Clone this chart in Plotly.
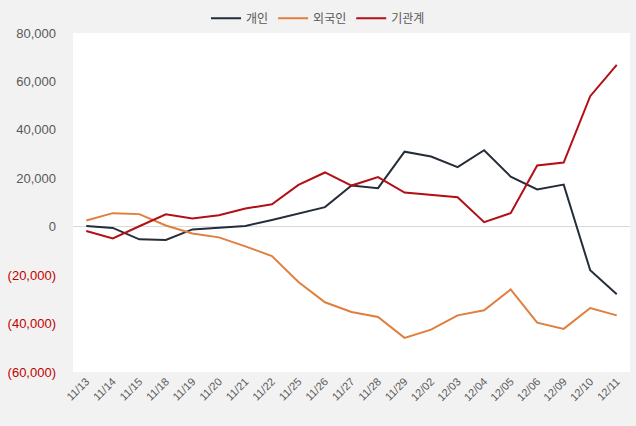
import plotly.graph_objects as go

dates = ["11/13", "11/14", "11/15", "11/18", "11/19", "11/20", "11/21", "11/22", "11/25", "11/26",
         "11/27", "11/28", "11/29", "12/02", "12/03", "12/04", "12/05", "12/06", "12/09", "12/10", "12/11"]
individual = [300, -500, -5200, -5500, -1100, -300, 300, 2800, 5400, 8100,
              17000, 15900, 31000, 29000, 24600, 31600, 20700, 15400, 17400, -18000, -27900]
foreign = [2600, 5600, 5200, 500, -2800, -4400, -8100, -12100, -22800, -31200,
           -35200, -37300, -45900, -42500, -36600, -34500, -25900, -39600, -42200, -33600, -36600]
institution = [-1800, -4800, 200, 5100, 3400, 4700, 7500, 9300, 17300, 22400,
               17000, 20500, 14100, 13200, 12200, 1900, 5600, 25300, 26500, 53900, 66800]

y_ticks = [80000, 60000, 40000, 20000, 0, -20000, -40000, -60000]

def fmt(v):
    if v < 0:
        return "<span style='color:#c00000'>(" + f"{-v:,}" + ")</span>"
    return f"{v:,}"

fig = go.Figure()
fig.add_trace(go.Scatter(x=dates, y=individual, name="개인", mode="lines",
                         line=dict(color="#252d3a", width=2)))
fig.add_trace(go.Scatter(x=dates, y=foreign, name="외국인", mode="lines",
                         line=dict(color="#e07f3d", width=2)))
fig.add_trace(go.Scatter(x=dates, y=institution, name="기관계", mode="lines",
                         line=dict(color="#b30f16", width=2)))

fig.update_layout(
    width=636, height=426,
    paper_bgcolor="#f2f2f2", plot_bgcolor="#ffffff",
    margin=dict(l=73, r=6, t=33, b=54, autoexpand=False),
    font=dict(family="Liberation Sans, Arial, Noto Sans CJK KR, sans-serif", size=12, color="#595959"),
    legend=dict(orientation="h", xref="container", x=0.5, xanchor="center",
                yref="container", y=0.957, yanchor="middle",
                font=dict(size=12, color="#595959",
                          family="Noto Sans CJK KR, sans-serif"),
                bgcolor="rgba(0,0,0,0)"),
    showlegend=True,
)
fig.update_xaxes(type="category", range=[-0.5, len(dates) - 0.5], showgrid=False,
                 tickangle=-45, tickfont=dict(size=11, color="#595959"), ticks="",
                 showline=False, zeroline=False, automargin=False)
fig.update_yaxes(range=[-60000, 80000], tickvals=y_ticks, ticktext=[fmt(v) for v in y_ticks],
                 showgrid=False, zeroline=True, zerolinecolor="#d9d9d9", zerolinewidth=1,
                 tickfont=dict(size=13, color="#595959"), ticks="", ticklabelstandoff=16,
                 automargin=False)

fig.write_html("out.html", config={"displayModeBar": False},
               post_script="document.body.style.margin='0';document.body.style.background='#f2f2f2';")
